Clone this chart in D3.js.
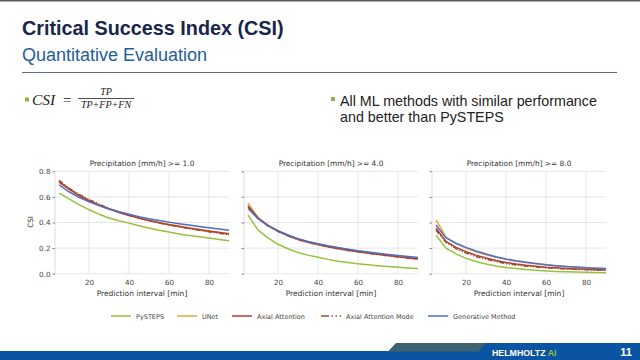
<!DOCTYPE html>
<html><head><meta charset="utf-8">
<script src="https://cdn.jsdelivr.net/npm/d3@7"></script>
<style>html,body{margin:0;padding:0;background:#fff;}svg{display:block;}</style>
</head><body>
<script>
const minutes = [5,10,15,20,25,30,35,40,45,50,55,60,65,70,75,80,85,90];
const panelTitles = ["Precipitation [mm/h] >= 1.0","Precipitation [mm/h] >= 4.0","Precipitation [mm/h] >= 8.0"];
const methods = ["PySTEPS","UNet","Axial Attention","Axial Attention Mode","Generative Method"];
const yTicks = [0.0,0.2,0.4,0.6,0.8];
const xTicks = [20,40,60,80];

const pysteps1 = [0.63,0.585,0.54,0.50,0.465,0.435,0.413,0.395,0.375,0.357,0.34,0.325,0.311,0.299,0.288,0.278,0.268,0.258];
const unet1    = [0.72,0.665,0.615,0.575,0.54,0.51,0.483,0.458,0.437,0.418,0.401,0.386,0.372,0.359,0.347,0.335,0.324,0.314];
const axial1   = [0.715,0.66,0.61,0.57,0.535,0.505,0.478,0.455,0.434,0.415,0.398,0.383,0.369,0.356,0.344,0.332,0.321,0.311];
const aam1     = [0.73,0.668,0.62,0.58,0.543,0.51,0.481,0.457,0.435,0.415,0.397,0.381,0.366,0.352,0.34,0.328,0.316,0.303];
const gen1     = [0.695,0.64,0.597,0.562,0.532,0.506,0.484,0.464,0.446,0.43,0.416,0.403,0.391,0.38,0.369,0.359,0.349,0.339];

const pysteps2 = [0.46,0.34,0.28,0.23,0.195,0.165,0.145,0.128,0.112,0.098,0.087,0.077,0.069,0.062,0.056,0.05,0.045,0.04];
const unet2    = [0.55,0.44,0.38,0.335,0.3,0.272,0.25,0.232,0.215,0.201,0.189,0.177,0.166,0.156,0.147,0.138,0.13,0.122];
const axial2   = [0.53,0.435,0.375,0.332,0.297,0.268,0.246,0.228,0.211,0.197,0.184,0.172,0.161,0.151,0.142,0.133,0.124,0.115];
const aam2     = [0.525,0.43,0.372,0.33,0.295,0.266,0.244,0.226,0.209,0.195,0.182,0.17,0.159,0.149,0.139,0.13,0.121,0.11];
const gen2     = [0.51,0.43,0.375,0.336,0.302,0.274,0.252,0.234,0.218,0.204,0.192,0.18,0.17,0.16,0.151,0.142,0.134,0.126];

const pysteps3 = [0.30,0.20,0.155,0.12,0.095,0.075,0.06,0.048,0.04,0.033,0.027,0.022,0.018,0.015,0.013,0.011,0.009,0.008];
const unet3    = [0.42,0.285,0.235,0.2,0.172,0.148,0.128,0.112,0.098,0.087,0.077,0.069,0.062,0.056,0.051,0.046,0.042,0.038];
const axial3   = [0.355,0.252,0.205,0.172,0.145,0.122,0.103,0.088,0.076,0.066,0.058,0.051,0.046,0.041,0.037,0.034,0.031,0.029];
const aam3     = [0.34,0.245,0.196,0.162,0.135,0.113,0.095,0.079,0.068,0.059,0.052,0.046,0.041,0.037,0.034,0.031,0.029,0.027];
const gen3     = [0.38,0.28,0.238,0.206,0.178,0.154,0.132,0.115,0.101,0.089,0.079,0.07,0.063,0.057,0.052,0.047,0.043,0.04];

const panels = [
  [pysteps1, unet1, axial1, aam1, gen1],
  [pysteps2, unet2, axial2, aam2, gen2],
  [pysteps3, unet3, axial3, aam3, gen3]
];

const colors = ["#97c23d","#e9a43c","#b43d33","#9a4e2a","#4d6ccb"];
const dashes = [null,null,null,"5,1.6,1.2,1.6,1.2,1.6",null];

const W = 640, H = 360;
const svg = d3.select("body").append("svg").attr("width",W).attr("height",H);

// top strip
svg.append("rect").attr("x",0).attr("y",0).attr("width",W).attr("height",1.5).attr("fill","#5a5a5a");

// headings
svg.append("text").attr("x",22).attr("y",35).text("Critical Success Index (CSI)")
  .attr("font-family","Liberation Sans, Arial, sans-serif").attr("font-weight","bold")
  .attr("font-size",19.8).attr("fill","#18264a");
svg.append("text").attr("x",22).attr("y",61).text("Quantitative Evaluation")
  .attr("font-family","Liberation Sans, Arial, sans-serif")
  .attr("font-size",18).attr("fill","#1f5c9e");
svg.append("line").attr("x1",22).attr("x2",617).attr("y1",72.5).attr("y2",72.5)
  .attr("stroke","#5b6f86").attr("stroke-width",1);

// bullets
const green = "#8cb43a";
svg.append("rect").attr("x",25).attr("y",97.5).attr("width",4).attr("height",4).attr("fill",green);
svg.append("rect").attr("x",331).attr("y",97).attr("width",4).attr("height",4).attr("fill",green);

const serif = "Liberation Serif, DejaVu Serif, serif";
svg.append("text").attr("x",32).attr("y",105).text("CSI")
  .attr("font-family",serif).attr("font-style","italic").attr("font-size",15.5).attr("fill","#222");
svg.append("text").attr("x",63).attr("y",105).text("=")
  .attr("font-family",serif).attr("font-size",15).attr("fill","#222");
svg.append("line").attr("x1",78).attr("x2",134).attr("y1",98.5).attr("y2",98.5).attr("stroke","#222").attr("stroke-width",0.8);
svg.append("text").attr("x",106).attr("y",95).attr("text-anchor","middle").text("TP")
  .attr("font-family",serif).attr("font-style","italic").attr("font-size",10).attr("fill","#222");
svg.append("text").attr("x",106).attr("y",108).attr("text-anchor","middle").text("TP+FP+FN")
  .attr("font-family",serif).attr("font-style","italic").attr("font-size",10).attr("fill","#222");

const bt = svg.append("text").attr("font-family","Liberation Sans, Arial, sans-serif").attr("font-size",14.3).attr("fill","#222");
bt.append("tspan").attr("x",340).attr("y",106).text("All ML methods with similar performance");
bt.append("tspan").attr("x",340).attr("y",122).text("and better than PySTEPS");

// charts
const lefts = [55,244,432];
const pw = 174;
const y = d3.scaleLinear().domain([0,0.8]).range([273.7,171.3]);
const cf = "DejaVu Sans, sans-serif";

panels.forEach((series,pi)=>{
  const x = d3.scaleLinear().domain([3,90]).range([lefts[pi],lefts[pi]+pw]);
  const g = svg.append("g");
  g.selectAll(".gx").data(xTicks).join("line")
    .attr("x1",d=>x(d)).attr("x2",d=>x(d)).attr("y1",y(0.8)).attr("y2",y(0))
    .attr("stroke","#e0e0e0").attr("stroke-width",0.8);
  g.selectAll(".gy").data(yTicks).join("line")
    .attr("x1",x(3)).attr("x2",x(90)).attr("y1",d=>y(d)).attr("y2",d=>y(d))
    .attr("stroke","#e0e0e0").attr("stroke-width",0.8);
  g.append("line").attr("x1",x(3)).attr("x2",x(3)).attr("y1",y(0.8)).attr("y2",y(0))
    .attr("stroke","#d6d6d6").attr("stroke-width",0.8);
  const ya = d3.axisLeft(y).tickValues(yTicks).tickSize(2.5).tickPadding(2)
    .tickFormat(pi===0 ? d3.format(".1f") : ()=>"");
  const yg = svg.append("g").attr("transform",`translate(${x(3)},0)`).call(ya);
  yg.select(".domain").remove();
  yg.selectAll("line").attr("stroke","#555").attr("stroke-width",0.7);
  yg.selectAll("text").attr("font-family",cf).attr("font-size",7.2).attr("fill","#444");
  const xa = d3.axisBottom(x).tickValues(xTicks).tickSize(0).tickPadding(6);
  const xg = svg.append("g").attr("transform",`translate(0,${y(0)})`).call(xa);
  xg.select(".domain").remove();
  xg.selectAll("text").attr("font-family",cf).attr("font-size",7.2).attr("fill","#444");
  const line = d3.line().x((d,i)=>x(minutes[i])).y(d=>y(d));
  series.forEach((s,si)=>{
    const p = g.append("path").datum(s).attr("d",line).attr("fill","none")
      .attr("stroke",colors[si]).attr("stroke-width",1.5).attr("stroke-linejoin","round");
    if (dashes[si]) p.attr("stroke-dasharray",dashes[si]);
  });
  svg.append("text").attr("x",x(3)+pw/2).attr("y",166).attr("text-anchor","middle")
    .text(panelTitles[pi]).attr("font-family",cf).attr("font-size",7.4).attr("fill","#333");
  svg.append("text").attr("x",x(3)+pw/2).attr("y",296).attr("text-anchor","middle")
    .text("Prediction interval [min]").attr("font-family",cf).attr("font-size",7.5).attr("fill","#333");
});
svg.append("text").attr("transform","translate(33,222) rotate(-90)").attr("text-anchor","middle")
  .text("CSI").attr("font-family",cf).attr("font-size",7.2).attr("fill","#333");

// legend
const legX = [111,177,232,321,428];
methods.forEach((m,i)=>{
  const l = svg.append("line").attr("x1",legX[i]).attr("x2",legX[i]+20).attr("y1",316).attr("y2",316)
    .attr("stroke",colors[i]).attr("stroke-width",1.5);
  if (dashes[i]) l.attr("stroke-dasharray","8,2.5,1.5,2.5,1.5,2.5");
  svg.append("text").attr("x",legX[i]+25).attr("y",318.5).text(m)
    .attr("font-family",cf).attr("font-size",6.5).attr("fill","#444");
});

// footer
const blue = "#0b54a3";
svg.append("rect").attr("x",0).attr("y",351).attr("width",W).attr("height",9).attr("fill",blue);
svg.append("polygon").attr("points","388,351.5 396,343 486,343 486,351.5").attr("fill","#3f6270");
svg.append("polygon").attr("points","478,351.5 486,343 640,343 640,351.5").attr("fill",blue);
const ht = svg.append("text").attr("x",492).attr("y",355.5).attr("font-family","Liberation Sans, Arial, sans-serif")
  .attr("font-weight","bold").attr("font-size",8.8).attr("fill","#fff");
ht.append("tspan").text("HELMHOLTZ ");
ht.append("tspan").attr("fill","#8cc43a").text("AI");
svg.append("text").attr("x",632).attr("y",356).attr("text-anchor","end").text("11")
  .attr("font-family","Liberation Sans, Arial, sans-serif").attr("font-weight","bold").attr("font-size",11).attr("fill","#fff");
</script>
</body></html>
